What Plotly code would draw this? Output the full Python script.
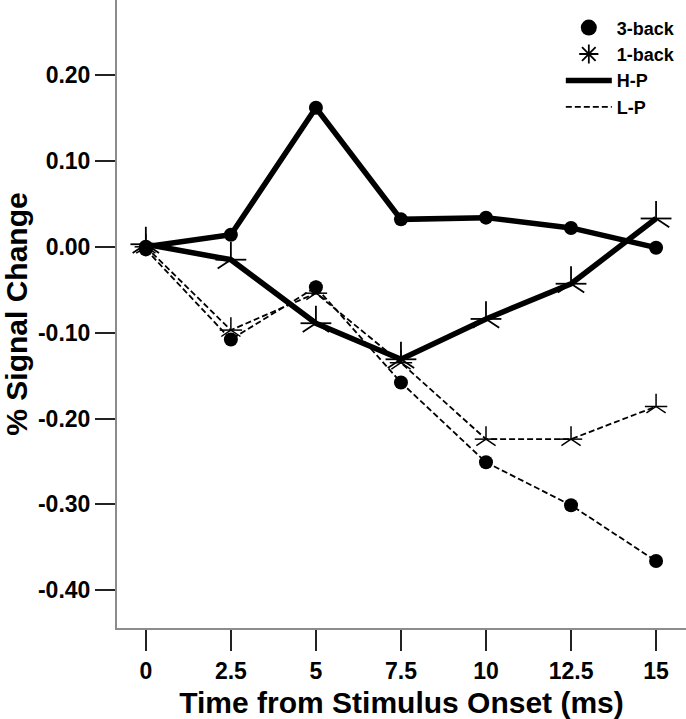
import plotly.graph_objects as go

time = [0, 2.5, 5, 7.5, 10, 12.5, 15]
tick_labels = ["0", "2.5", "5", "7.5", "10", "12.5", "15"]
back3_hp = [0.000, 0.014, 0.162, 0.032, 0.034, 0.022, -0.001]
back1_hp = [0.003, -0.015, -0.089, -0.131, -0.084, -0.043, 0.033]
back3_lp = [-0.003, -0.108, -0.047, -0.158, -0.251, -0.301, -0.366]
back1_lp = [0.000, -0.097, -0.054, -0.135, -0.224, -0.224, -0.186]
y_ticks = [0.20, 0.10, 0.00, -0.10, -0.20, -0.30, -0.40]
y_tick_labels = ["0.20", "0.10", "0.00", "-0.10", "-0.20", "-0.30", "-0.40"]

FONT = "Liberation Sans, Arial, sans-serif"
fig = go.Figure()

circle = dict(symbol="circle", size=14, color="black")
LP_LINE = dict(color="black", width=1.8, dash="6px,3px")
HP_LINE = dict(color="black", width=5.5)


def add_star(x, y, size, width):
    # five-armed asterisk built from two open symbols
    fig.add_trace(go.Scatter(x=x, y=y, mode="markers", showlegend=False, hoverinfo="skip",
                             marker=dict(symbol="y-up-open", size=size, color="black",
                                         line=dict(color="black", width=width))))
    fig.add_trace(go.Scatter(x=x, y=y, mode="markers", showlegend=False, hoverinfo="skip",
                             marker=dict(symbol="line-ew-open", size=size * 1.0, color="black",
                                         line=dict(color="black", width=width))))


fig.add_trace(go.Scatter(x=time, y=back3_lp, mode="lines+markers", line=LP_LINE,
                         marker=circle, showlegend=False))
fig.add_trace(go.Scatter(x=time, y=back1_lp, mode="lines", line=LP_LINE, showlegend=False))
add_star(time, back1_lp, 16, 1.5)
fig.add_trace(go.Scatter(x=time, y=back3_hp, mode="lines+markers", line=HP_LINE,
                         marker=circle, showlegend=False))
fig.add_trace(go.Scatter(x=time, y=back1_hp, mode="lines", line=HP_LINE, showlegend=False))
add_star(time, back1_hp, 22, 1.8)

# legend entries
fig.add_trace(go.Scatter(x=[None], y=[None], mode="markers", name="3-back",
                         marker=dict(symbol="circle", size=22, color="black")))
fig.add_trace(go.Scatter(x=[None], y=[None], mode="markers", name="1-back",
                         marker=dict(symbol="asterisk-open", size=16, color="black",
                                     line=dict(color="black", width=1.8))))
fig.add_trace(go.Scatter(x=[None], y=[None], mode="lines", name="H-P", line=HP_LINE))
fig.add_trace(go.Scatter(x=[None], y=[None], mode="lines", name="L-P", line=LP_LINE))

fig.update_layout(
    width=686, height=719,
    margin=dict(l=117, r=0, t=0, b=91),
    plot_bgcolor="white", paper_bgcolor="white",
    font=dict(family=FONT, color="black"),
    legend=dict(x=0.78, y=0.985, xanchor="left", yanchor="top",
                font=dict(size=18, family=FONT, weight="bold"),
                bgcolor="rgba(0,0,0,0)", itemwidth=46, tracegroupgap=0),
    xaxis=dict(
        range=[-0.848, 15.88], tickmode="array", tickvals=time, ticktext=tick_labels,
        showline=True, linecolor="#8c8c8c", linewidth=2, showgrid=False, zeroline=False,
        ticks="outside", ticklen=21, tickwidth=2, tickcolor="#222",
        tickfont=dict(size=23, weight="bold"),
        title=dict(text="Time from Stimulus Onset (ms)", font=dict(size=30, weight="bold"), standoff=12),
    ),
    yaxis=dict(
        range=[-0.444, 0.2875], tickmode="array", tickvals=y_ticks, ticktext=y_tick_labels,
        showline=True, linecolor="#8c8c8c", linewidth=2, showgrid=False, zeroline=False,
        ticks="outside", ticklen=20, tickwidth=2, tickcolor="#222",
        tickfont=dict(size=23, weight="bold"),
        title=dict(text="% Signal Change", font=dict(size=30, weight="bold"), standoff=8),
    ),
)

fig.write_html("out.html", config={"displayModeBar": False},
               post_script="document.body.style.margin='0px';")
